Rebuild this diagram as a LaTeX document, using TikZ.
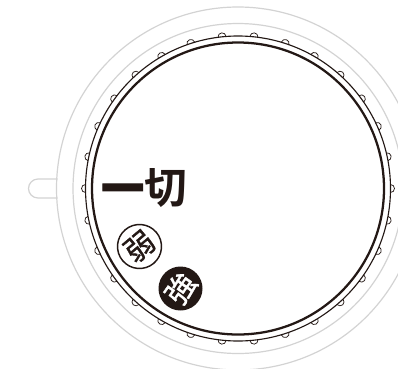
\documentclass[tikz,border=0pt]{standalone}
\usepackage{fontspec}
\usetikzlibrary{calc}
\newfontfamily\cjk{Noto Sans CJK JP}[BoldFont={Noto Sans CJK JP Bold}]
\newfontfamily\cjkheavy{Noto Sans CJK JP Bold}[FakeBold=2.5]
\newfontfamily\cjkmid{Noto Sans CJK JP}[FakeBold=1.2]
\definecolor{ink}{HTML}{231815}
\definecolor{soft}{HTML}{D3D3D3}
\tikzset{
  x=0.75pt,y=-0.75pt,
  softline/.style={draw=soft,line width=0.9pt},
  dial/.style={draw=ink,line width=1.7pt},
  ringline/.style={draw=ink,line width=0.85pt},
  bump/.style={draw=ink,line width=0.55pt,fill=white},
  badge/.style={circle,inner sep=0pt,minimum size=33pt,font=\cjkmid\fontsize{22pt}{22pt}\selectfont}
}
\begin{document}
\begin{tikzpicture}
\useasboundingbox (0,0) rectangle (398,368);
\clip (0,0) rectangle (398,368);
\coordinate (c) at (238,188.5);
\draw[softline] (57.5,179) -- (38,179) arc[start angle=90,end angle=270,radius=9.5*0.75pt] -- (57.5,198);
\draw[softline] (c) circle[radius=181.5*0.75pt];
\draw[softline] (c) circle[radius=165*0.75pt];
\foreach \a in {0,12,...,348}{
  \draw[bump] ($(c)+(\a:152.5*0.75pt)+(\a+90:4*0.75pt)$) arc[start angle=\a+90,end angle=\a-90,radius=4*0.75pt];
}
\draw[ringline] (c) circle[radius=152.5*0.75pt];
\draw[dial] (c) circle[radius=146*0.75pt];
\node[font=\cjk\bfseries\fontsize{32pt}{32pt}\selectfont,anchor=center,inner sep=0pt,ink] (label) at (144,188.5) {{\cjkheavy 一}切};
\node[badge,draw=ink,line width=1.1pt,text=ink,rotate=40] (weak) at (139.5,246.5) {弱};
\node[badge,fill=ink,text=white,rotate=55] (strong) at (180.5,288.5) {強};
\end{tikzpicture}
\end{document}
